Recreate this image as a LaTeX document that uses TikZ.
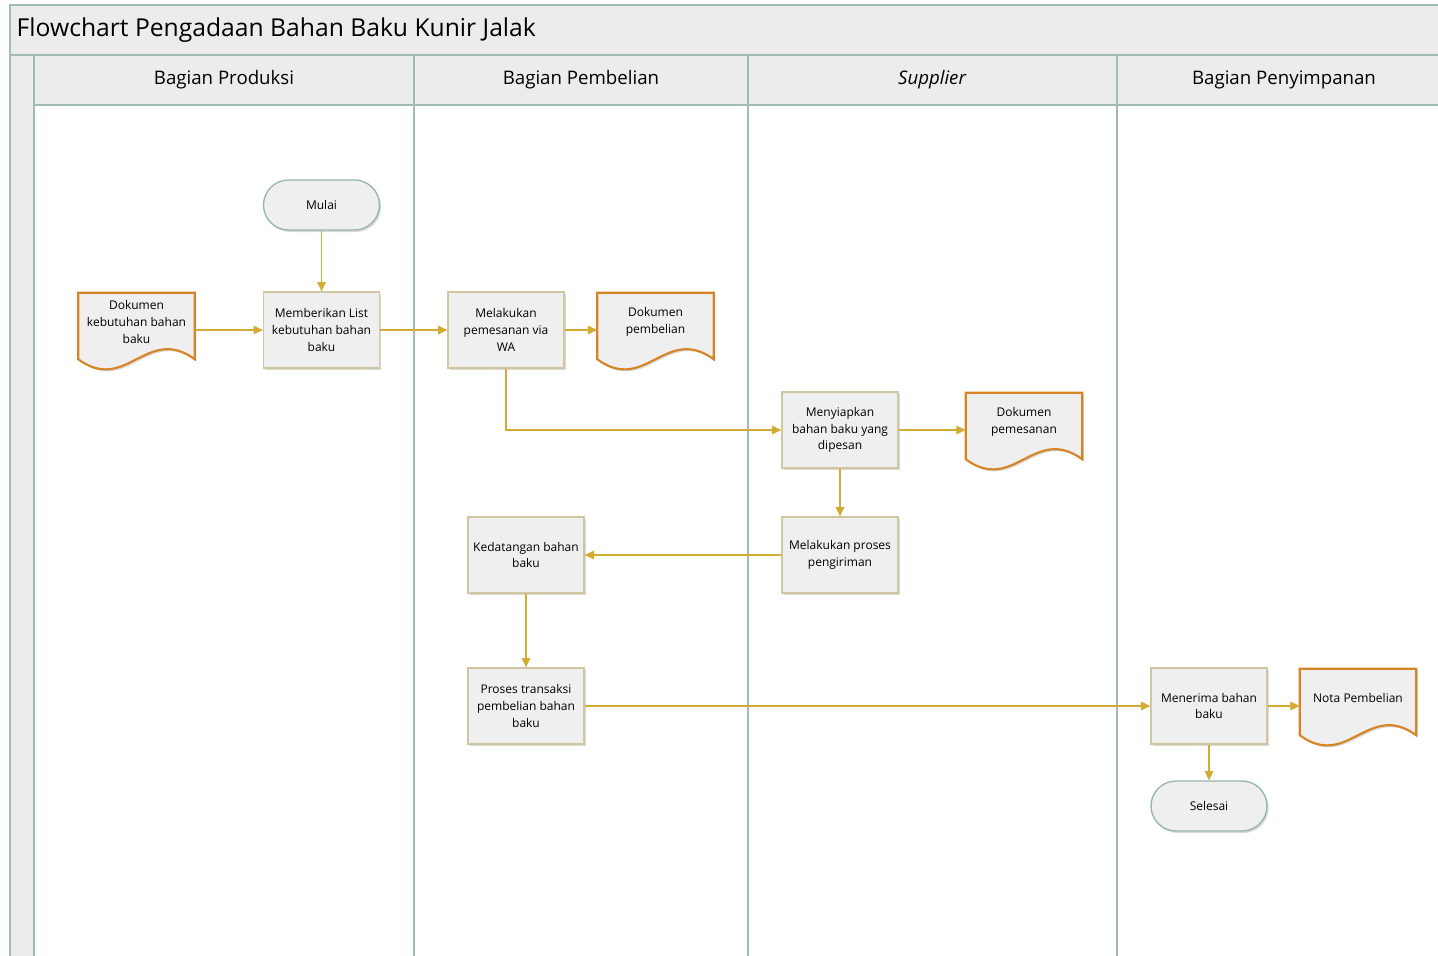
\documentclass[tikz,border=0pt]{standalone}
\usepackage{fontspec}
\setmainfont{Open Sans}
\usepackage{xcolor}
\usetikzlibrary{shadows,backgrounds,calc,arrows.meta}
\definecolor{lanegaris}{RGB}{162,188,180}
\definecolor{lanefill}{RGB}{236,236,236}
\definecolor{kotakgaris}{RGB}{208,198,160}
\definecolor{kotakfill}{RGB}{239,239,239}
\definecolor{termgaris}{RGB}{150,182,172}
\definecolor{dokgaris}{RGB}{214,132,36}
\definecolor{panah}{RGB}{212,172,52}

\begin{document}
\begin{tikzpicture}[x=0.75pt, y=-0.75pt, font=\fontsize{9}{12.6}\selectfont,
  bayang/.style={drop shadow={shadow xshift=1.2pt, shadow yshift=-1.5pt, opacity=0.25, fill=black!60}},
  proses/.style={rectangle, draw=kotakgaris, line width=1pt, fill=kotakfill, minimum width=87pt, minimum height=57pt, align=center, inner sep=1pt, bayang},
  terminal/.style={rectangle, rounded corners=18.75pt, draw=termgaris, line width=1pt, fill=kotakfill, minimum width=87pt, minimum height=37.5pt, bayang},
  dokumen/.style={rectangle, minimum width=87pt, minimum height=43.5pt, align=center, inner sep=1pt},
  alur/.style={-{Triangle[width=6.5pt,length=7pt]}, panah, line width=0.8pt},
  lane/.style={draw=lanegaris, line width=1.2pt},
  kepala/.style={font=\fontsize{14}{16}\selectfont}]
\useasboundingbox (0,0) rectangle (1438,956);

% Swimlane frame
\fill[lanefill] (10,5) rectangle (1450,105);
\fill[lanefill] (10,105) rectangle (34,960);
\draw[lane] (1450,5) -- (10,5) -- (10,960);
\draw[lane] (10,55) -- (1450,55);
\draw[lane] (34,105) -- (1450,105);
\foreach \x in {34,414,748,1117}
  \draw[lane] (\x,55) -- (\x,960);

% Title and lane headers
\node[anchor=west, font=\fontsize{18.5}{22}\selectfont] (judul) at (12,30) {Flowchart Pengadaan Bahan Baku Kunir Jalak};
\node[kepala] (hProduksi) at (224,80) {Bagian Produksi};
\node[kepala] (hPembelian) at (581,80) {Bagian Pembelian};
\node[kepala] (hSupplier) at (932,80) {\itshape Supplier};
\node[kepala] (hSimpan) at (1284,80) {Bagian Penyimpanan};

% Flow nodes
\node[terminal] (mulai) at (321.5,205) {Mulai};
\node[proses] (memberi) at (321.5,330) {Memberikan List\\kebutuhan bahan\\baku};
\node[dokumen] (dokButuh) at (136.5,322) {Dokumen\\kebutuhan bahan\\baku};
\node[proses] (pesanWA) at (506,330) {Melakukan\\pemesanan via\\WA};
\node[dokumen] (dokBeli) at (655.5,322) {Dokumen\\pembelian};
\node[proses] (siapkan) at (840,430) {Menyiapkan\\bahan baku yang\\dipesan};
\node[dokumen] (dokPesan) at (1024,422) {Dokumen\\pemesanan};
\node[proses] (kirim) at (840,555) {Melakukan proses\\pengiriman};
\node[proses] (datang) at (526,555) {Kedatangan bahan\\baku};
\node[proses] (transaksi) at (526,706) {Proses transaksi\\pembelian bahan\\baku};
\node[proses] (terima) at (1209,706) {Menerima bahan\\baku};
\node[dokumen] (nota) at (1358,698) {Nota Pembelian};
\node[terminal] (selesai) at (1209,806) {Selesai};

% Document shapes behind their texts
\begin{scope}[on background layer]
\foreach \d in {dokButuh,dokBeli,dokPesan,nota}
  \filldraw[draw=dokgaris, fill=kotakfill, line width=1.6pt, bayang]
    (\d.north west) -- (\d.north east) -- ($(\d.south east)+(0,8)$)
    .. controls ($(\d.south east)+(-48,-27)$) and ($(\d.south west)+(48,43)$) .. ($(\d.south west)+(0,8)$) -- cycle;
\end{scope}

% Connectors
\draw[alur] (mulai) -- (memberi);
\draw[alur] (dokButuh.east |- memberi) -- (memberi);
\draw[alur] (memberi) -- (pesanWA);
\draw[alur] (pesanWA) -- (pesanWA -| dokBeli.west);
\draw[alur] (pesanWA) |- (siapkan);
\draw[alur] (siapkan) -- (siapkan -| dokPesan.west);
\draw[alur] (siapkan) -- (kirim);
\draw[alur] (kirim) -- (datang);
\draw[alur] (datang) -- (transaksi);
\draw[alur] (transaksi) -- (terima);
\draw[alur] (terima) -- (terima -| nota.west);
\draw[alur] (terima) -- (selesai);
\end{tikzpicture}
\end{document}
